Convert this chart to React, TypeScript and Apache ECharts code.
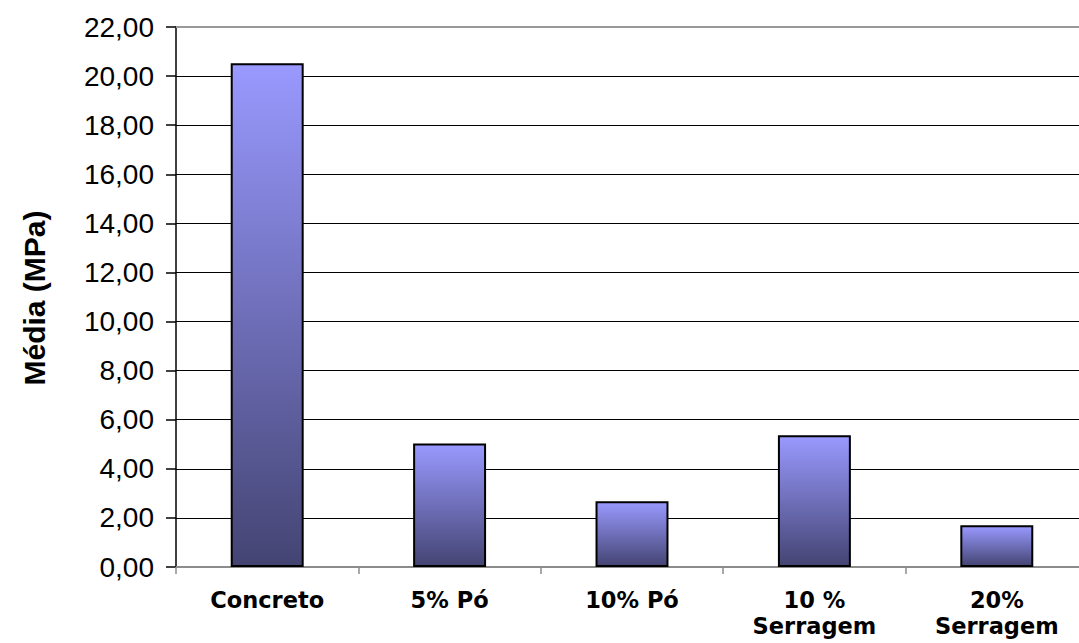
import React, { useEffect, useRef } from "react";
import * as echarts from "echarts";

// Compressive strength averages per mix
const categories: string[] = ["Concreto", "5% Pó", "10% Pó", "10 %\nSerragem", "20%\nSerragem"];
const mediaMPa: number[] = [20.52, 5.03, 2.68, 5.37, 1.7];

const yMin = 0;
const yMax = 22;
const yStep = 2;
const yTitle = "Média (MPa)";

const fmt = (v: number) => v.toFixed(2).replace(".", ",");

export default function App() {
  const ref = useRef<HTMLDivElement>(null);

  useEffect(() => {
    if (!ref.current) return;
    const chart = echarts.init(ref.current, undefined, { renderer: "svg" });
    chart.setOption({
      animation: false,
      backgroundColor: "#ffffff",
      grid: { left: 176, top: 27, right: 0, bottom: 76, containLabel: false },
      xAxis: [
        {
          type: "category",
          data: categories,
          axisLine: { show: true, lineStyle: { color: "#8c8c8c", width: 2 } },
          axisTick: { show: true, length: 7, lineStyle: { color: "#8c8c8c", width: 1.5 } },
          axisLabel: {
            interval: 0,
            margin: 20,
            color: "#000",
            fontFamily: "DejaVu Sans, Verdana, sans-serif",
            fontWeight: "bold",
            fontSize: 22.5,
            lineHeight: 26,
          },
          splitLine: { show: false },
        },
        {
          type: "category",
          position: "top",
          data: categories,
          axisLine: { show: true, lineStyle: { color: "#999999", width: 2 } },
          axisTick: { show: false },
          axisLabel: { show: false },
        },
      ],
      yAxis: {
        type: "value",
        min: yMin,
        max: yMax,
        interval: yStep,
        axisLine: { show: true, lineStyle: { color: "#000", width: 1.5 } },
        axisTick: { show: true, length: 10, lineStyle: { color: "#000", width: 1.5 } },
        axisLabel: {
          margin: 22,
          color: "#000",
          fontFamily: "Liberation Sans, Arial, sans-serif",
          fontSize: 28,
          formatter: (v: number) => fmt(v),
        },
        splitLine: { show: true, lineStyle: { color: "#000", width: 1.2 } },
      },
      graphic: [
        {
          type: "text",
          x: 34,
          y: 298,
          rotation: Math.PI / 2,
          style: {
            text: yTitle,
            fill: "#000",
            font: "bold 30px 'Liberation Sans', Arial, sans-serif",
            align: "center",
            verticalAlign: "middle",
          },
        },
      ],
      series: [
        {
          type: "bar",
          data: mediaMPa,
          barWidth: "40%",
          itemStyle: {
            borderColor: "#000",
            borderWidth: 2,
            color: new echarts.graphic.LinearGradient(0, 0, 0, 1, [
              { offset: 0, color: "#9999ff" },
              { offset: 1, color: "#444473" },
            ]),
          },
        },
      ],
    });
    return () => chart.dispose();
  }, []);

  // The plot runs a little past the right edge of the visible frame
  return (
    <div style={{ position: "absolute", left: 0, top: 0, width: 1079, height: 643, overflow: "hidden" }}>
      <div ref={ref} style={{ width: 1088, height: 643 }} />
    </div>
  );
}
